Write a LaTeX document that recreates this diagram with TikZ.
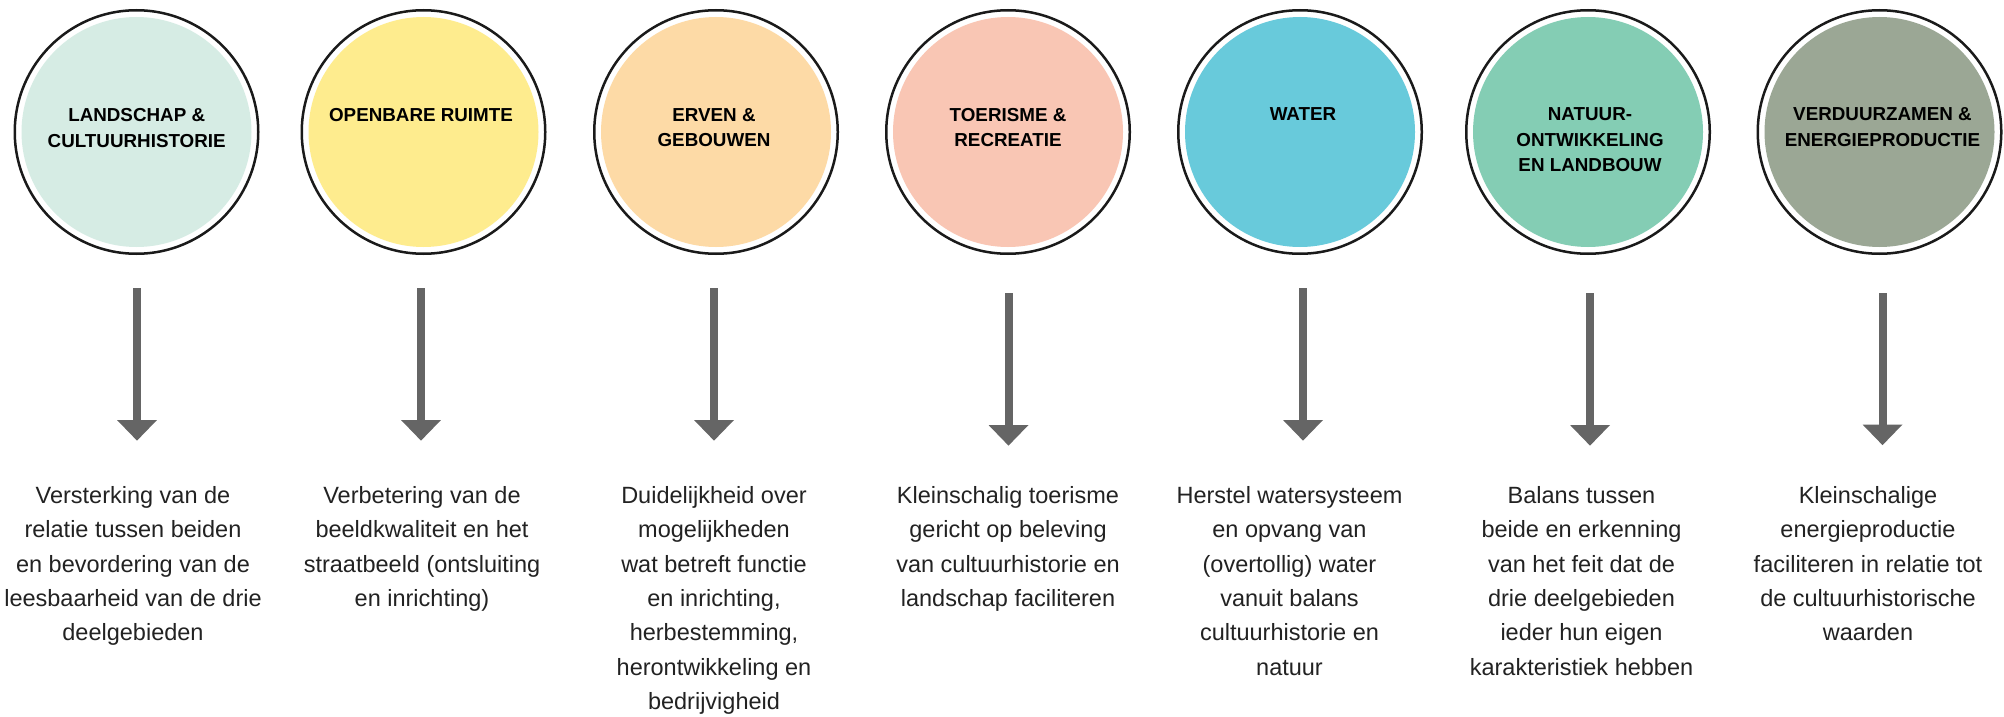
\documentclass[tikz,border=0pt]{standalone}
\usepackage{fontspec}
\setmainfont{Liberation Sans}
\usetikzlibrary{arrows.meta}
\definecolor{fillA}{HTML}{D6ECE4}
\definecolor{fillB}{HTML}{FEEC8E}
\definecolor{fillC}{HTML}{FDDAA6}
\definecolor{fillD}{HTML}{F9C6B4}
\definecolor{fillE}{HTML}{68CADB}
\definecolor{fillF}{HTML}{84CDB4}
\definecolor{fillG}{HTML}{9BA795}
\definecolor{ringcol}{HTML}{1A1A1A}
\definecolor{arrcol}{HTML}{656565}
\definecolor{bodycol}{HTML}{222222}
\begin{document}
\begin{tikzpicture}[x=1pt,y=-1pt,
  ring/.style={circle, draw=ringcol, line width=2.5pt, minimum size=243.5pt, inner sep=0pt},
  disc/.style={circle, minimum size=230pt, inner sep=0pt, draw=none},
  head/.style={font=\fontsize{18.8pt}{25.7pt}\selectfont\bfseries, align=center, anchor=base, text=black, inner sep=0pt},
  body/.style={font=\fontsize{23.5pt}{34.4pt}\selectfont, align=center, anchor=base, text=bodycol, inner sep=0pt},
  arr/.style={draw=arrcol, line width=8pt, -{Triangle[width=38.7pt,length=20.7pt]}}]
\useasboundingbox (0,0) rectangle (2004,717);
\fill[white] (0,0) rectangle (2004,717);

% circles
\node[ring] (r1) at (136.5,132) {};
\node[disc, fill=fillA] (d1) at (r1.center) {};
\node[ring] (r2) at (423.5,132) {};
\node[disc, fill=fillB] (d2) at (r2.center) {};
\node[ring] (r3) at (716,132) {};
\node[disc, fill=fillC] (d3) at (r3.center) {};
\node[ring] (r4) at (1008,132) {};
\node[disc, fill=fillD] (d4) at (r4.center) {};
\node[ring] (r5) at (1300,132) {};
\node[disc, fill=fillE] (d5) at (r5.center) {};
\node[ring] (r6) at (1588,132) {};
\node[disc, fill=fillF] (d6) at (r6.center) {};
\node[ring] (r7) at (1879.5,132) {};
\node[disc, fill=fillG] (d7) at (r7.center) {};

% headings (anchor base = last line baseline)
\node[head] (h1) at (136.7,147.2) {LANDSCHAP \&\\CULTUURHISTORIE};
\node[head] (h2) at (421,121.5) {OPENBARE RUIMTE};
\node[head] (h3) at (714,146.7) {ERVEN \&\\GEBOUWEN};
\node[head] (h4) at (1008,146.7) {TOERISME \&\\RECREATIE};
\node[head] (h5) at (1303,120.5) {WATER};
\node[head] (h6) at (1590,171.9) {NATUUR-\\ONTWIKKELING\\EN LANDBOUW};
\node[head] (h7) at (1882.5,146.2) {VERDUURZAMEN \&\\ENERGIEPRODUCTIE};

% arrows
\coordinate (s1) at (137,288); \coordinate (e1) at (137,440.7);
\coordinate (s2) at (421,288); \coordinate (e2) at (421,440.7);
\coordinate (s3) at (714,288); \coordinate (e3) at (714,440.7);
\coordinate (s4) at (1008.5,293); \coordinate (e4) at (1008.5,445.7);
\coordinate (s5) at (1303,288); \coordinate (e5) at (1303,440.7);
\coordinate (s6) at (1590,293); \coordinate (e6) at (1590,445.7);
\coordinate (s7) at (1882.5,293); \coordinate (e7) at (1882.5,445.2);
\draw[arr] (s1) -- (e1);
\draw[arr] (s2) -- (e2);
\draw[arr] (s3) -- (e3);
\draw[arr] (s4) -- (e4);
\draw[arr] (s5) -- (e5);
\draw[arr] (s6) -- (e6);
\draw[arr] (s7) -- (e7);

% descriptions (anchor base = last line baseline; first line at 503.3)
\node[body] (t1) at (133,640.9) {Versterking van de\\relatie tussen beiden\\en bevordering van de\\leesbaarheid van de drie\\deelgebieden};
\node[body] (t2) at (422,606.5) {Verbetering van de\\beeldkwaliteit en het\\straatbeeld (ontsluiting\\en inrichting)};
\node[body] (t3) at (714,709.7) {Duidelijkheid over\\mogelijkheden\\wat betreft functie\\en inrichting,\\herbestemming,\\herontwikkeling en\\bedrijvigheid};
\node[body] (t4) at (1008,606.5) {Kleinschalig toerisme\\gericht op beleving\\van cultuurhistorie en\\landschap faciliteren};
\node[body] (t5) at (1289.5,675.3) {Herstel watersysteem\\en opvang van\\(overtollig) water\\vanuit balans\\cultuurhistorie en\\natuur};
\node[body] (t6) at (1581.5,675.3) {Balans tussen\\beide en erkenning\\van het feit dat de\\drie deelgebieden\\ieder hun eigen\\karakteristiek hebben};
\node[body] (t7) at (1868,640.9) {Kleinschalige\\energieproductie\\faciliteren in relatie tot\\de cultuurhistorische\\waarden};
\end{tikzpicture}
\end{document}
